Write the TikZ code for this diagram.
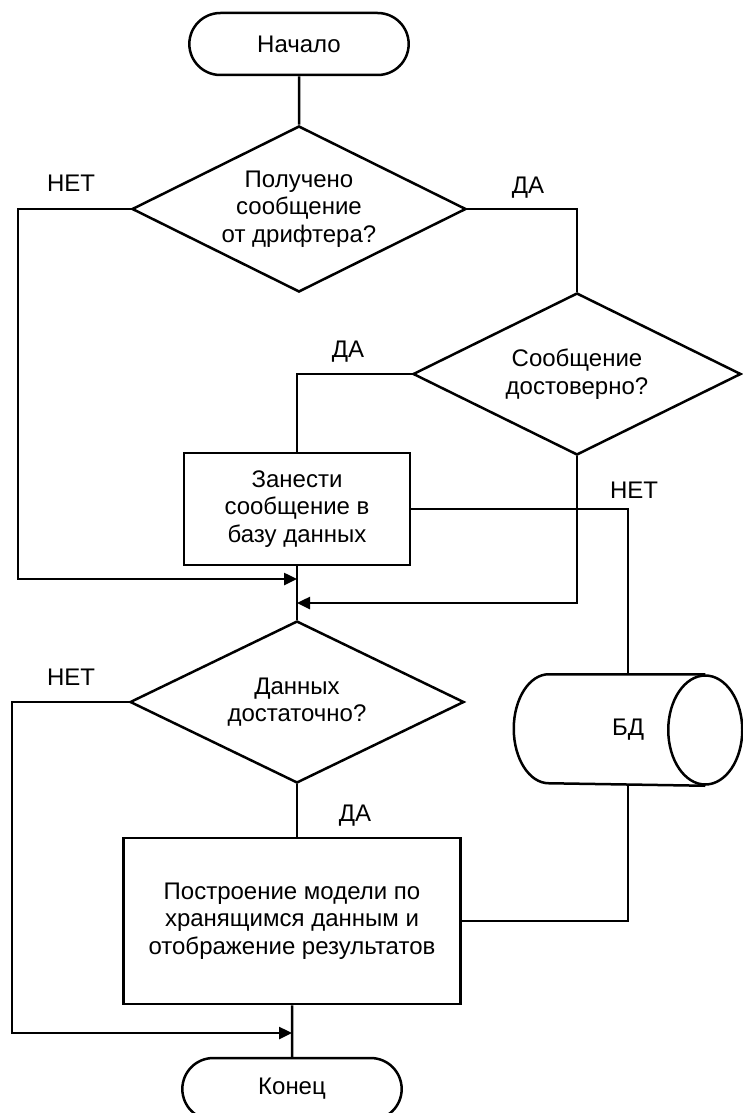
\documentclass[tikz,border=0pt]{standalone}
\usepackage{fontspec}
\setmainfont{Liberation Sans}
\usetikzlibrary{shapes.geometric,shapes.misc,arrows.meta}

\begin{document}
\begin{tikzpicture}[x=1pt, y=-1pt, line width=2.5pt,
    every node/.style={font=\fontsize{24}{27.5}\selectfont, align=center},
    term/.style={draw, rounded rectangle, minimum width=226pt, minimum height=62pt},
    cond/.style={draw, diamond, aspect=2, inner sep=0pt, minimum width=334pt, minimum height=166pt},
    proc/.style={draw, rectangle, minimum width=226pt, minimum height=112pt},
    store/.style={rectangle, minimum width=226pt, minimum height=109pt},
    flow/.style={-{Triangle[length=13pt,width=12pt]}}]
    \useasboundingbox (0,0) rectangle (742,1113);

    % Блоки
    \node[term] (start) at (299,44) {Начало};
    \node[cond] (recv) at (299,209) {Получено\\сообщение\\от дрифтера?};
    \node[cond, minimum width=328pt, minimum height=162pt] (valid) at (577,374) {Сообщение\\достоверно?};
    \node[proc] (save) at (297,509) {Занести\\сообщение в\\базу данных};
    \node[cond, minimum height=162pt] (enough) at (297,702) {Данных\\достаточно?};
    \node[proc, minimum width=337pt, minimum height=166pt] (model) at (292,921) {Построение модели по\\хранящимся данным и\\отображение результатов};
    \node[term] (stop) at (292,1089) {Конец};
    \node[store] (db) at (628,730) {БД};

    % Цилиндр БД
    \draw ([xshift=-37pt]db.east) ellipse [x radius=37pt, y radius=54.5pt];
    \draw ([xshift=-37pt]db.north east) -- ([xshift=35pt]db.north west)
        arc[start angle=90, end angle=270, x radius=35pt, y radius=54.5pt]
        -- ([xshift=-37pt]db.south east);

    % Узлы слияния
    \coordinate (j1) at (297,579);
    \coordinate (j2) at (297,603);
    \coordinate (j3) at (292,1033);
    \coordinate (rail1) at (18,579);
    \coordinate (rail2) at (12,1033);

    % Связи
    \draw (start) -- (recv);
    \draw (recv.east) -| (valid.north);
    \draw[flow] (recv.west) -| (rail1) -- (j1);
    \draw (valid.west) -| (save.north);
    \draw[flow] (valid.south) |- (j2);
    \draw (save) -- (enough);
    \draw (save.east) -| (db.north);
    \draw (db.south) |- (model.east);
    \draw (enough.south) -- (enough.south |- model.north);
    \draw[flow] (enough.west) -| (rail2) -- (j3);
    \draw (model) -- (stop);

    % Подписи
    \node (no1) at (71,183) {НЕТ};
    \node (yes1) at (528,188) {ДА};
    \node (yes2) at (348,352) {ДА};
    \node (no2) at (634,490) {НЕТ};
    \node (no3) at (71,677) {НЕТ};
    \node (yes3) at (355,816) {ДА};
\end{tikzpicture}
\end{document}
